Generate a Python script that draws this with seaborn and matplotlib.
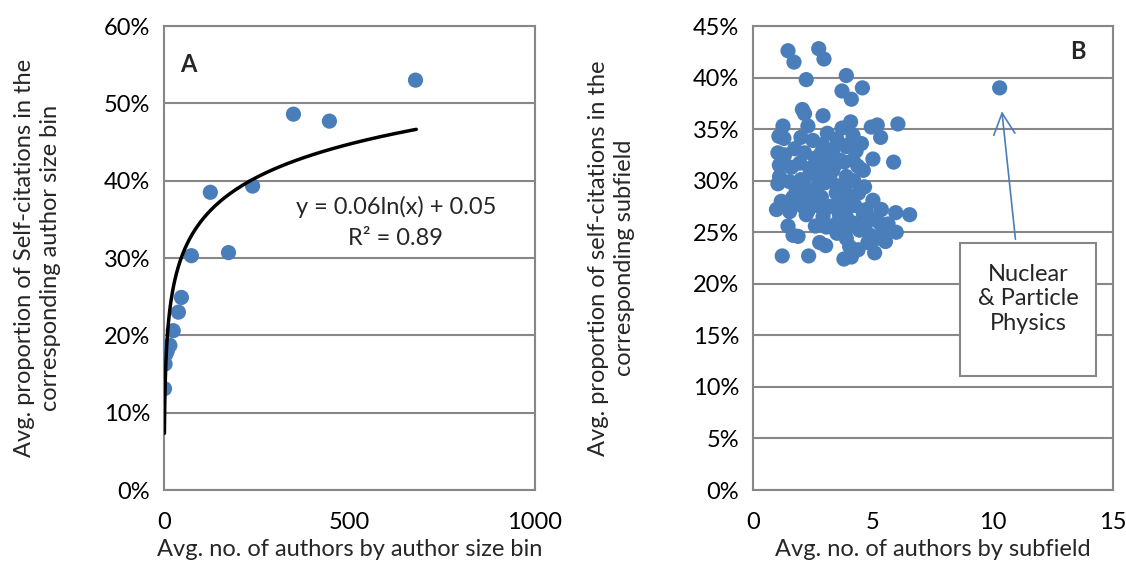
import numpy as np
import pandas as pd
import matplotlib
matplotlib.use("Agg")
import matplotlib.pyplot as plt
import seaborn as sns
from matplotlib.ticker import PercentFormatter, MultipleLocator
from matplotlib.patches import Rectangle

# Panel A: author size bins
bin_authors = [678, 446, 349, 239, 174, 125, 74, 47, 39, 25, 16, 9, 6, 4, 3, 1.5]
bin_selfcite = [0.530, 0.477, 0.486, 0.393, 0.307, 0.385, 0.303, 0.249, 0.230,
                0.206, 0.187, 0.180, 0.177, 0.175, 0.163, 0.131]
# log trendline (Excel label says 0.06ln(x) + 0.05)
trend_slope = 0.062
trend_intercept = 0.062
trend_range = (1.2, 680)
trend_label = ["y = 0.06ln(x) + 0.05", "R\u00b2 = 0.89"]

# Panel B: subfields
subfield_authors = [
    1.46, 1.71, 2.74, 2.96, 2.22, 3.89, 4.56, 3.71, 4.10, 2.06, 2.15, 2.92,
    1.25, 2.29, 4.07, 4.93, 5.18, 6.04, 1.08, 1.29, 5.32, 3.10, 3.71, 4.17,
    4.52, 1.74, 1.04, 1.32, 2.15, 5.00, 5.86, 1.10, 2.85, 3.33, 3.89, 3.61,
    4.37, 4.17, 1.95, 2.36, 2.92, 3.33, 1.11, 1.04, 1.53, 2.00, 2.71, 3.20,
    3.89, 4.65, 3.82, 2.64, 1.81, 1.67, 2.22, 2.85, 3.47, 4.10, 1.18, 5.00,
    0.98, 1.53, 2.08, 2.64, 3.20, 3.61, 4.24, 4.72, 5.35, 5.95, 6.53, 2.22,
    2.92, 3.89, 5.00, 1.46, 3.06, 3.47, 4.17, 4.44, 5.28, 5.63, 5.97, 1.67,
    1.88, 5.42, 3.89, 5.14, 5.52, 2.78, 3.03, 4.03, 4.79, 4.38, 5.07, 1.22,
    2.32, 3.79, 4.10, 2.50, 2.90, 3.50, 3.30, 2.60, 3.80, 4.30, 2.40, 3.00,
    3.50, 4.20, 4.40, 2.50, 3.00, 3.80, 4.60, 2.10, 1.60, 3.40, 4.00, 4.60,
    2.00, 1.60, 2.30, 3.60, 4.00, 4.70, 4.90, 3.50, 2.60, 10.28]
subfield_selfcite = [
    42.6, 41.5, 42.8, 41.8, 39.8, 40.2, 39.0, 38.7, 37.9, 36.9, 36.5, 36.3,
    35.3, 35.3, 35.7, 35.2, 35.4, 35.5, 34.3, 34.1, 34.2, 34.6, 35.1, 34.4,
    33.6, 33.1, 32.7, 32.5, 32.7, 32.1, 31.8, 31.5, 32.7, 33.0, 33.3, 32.0,
    31.4, 32.0, 31.7, 31.2, 31.4, 31.0, 30.4, 29.7, 29.9, 30.1, 30.4, 30.2,
    30.4, 29.4, 29.3, 29.3, 29.1, 28.4, 28.6, 28.4, 28.8, 28.4, 28.0, 28.1,
    27.2, 27.0, 27.5, 27.6, 27.5, 28.0, 27.6, 27.2, 27.2, 26.9, 26.7, 26.7,
    26.5, 26.5, 26.3, 25.6, 25.5, 25.8, 25.9, 25.2, 25.9, 25.8, 25.0, 24.7,
    24.6, 25.1, 24.4, 24.4, 24.1, 24.0, 23.7, 23.6, 24.0, 23.3, 23.0, 22.7,
    22.7, 22.4, 22.6, 33.9, 33.5, 34.0, 32.2, 32.2, 31.8, 32.9, 30.8, 29.8,
    29.5, 30.0, 28.8, 28.0, 27.2, 27.3, 26.8, 29.8, 31.3, 31.5, 33.5, 31.0,
    34.2, 27.9, 27.1, 26.7, 25.5, 25.8, 24.7, 24.9, 25.6, 39.0]
callout_text = "Nuclear\n& Particle\nPhysics"

df_a = pd.DataFrame({"authors": bin_authors, "selfcite": bin_selfcite})
df_b = pd.DataFrame({"authors": subfield_authors,
                     "selfcite": np.array(subfield_selfcite) / 100})
trend_x = np.geomspace(trend_range[0], trend_range[1], 300)
df_trend = pd.DataFrame({"authors": trend_x,
                         "selfcite": trend_slope * np.log(trend_x) + trend_intercept})

sns.set_style("white")
plt.rcParams["font.family"] = ["Lato", "DejaVu Sans"]
plt.rcParams["font.size"] = 17

dot_color = "#4A7EBB"
grid_color = "#878787"

fig = plt.figure(figsize=(11.26, 5.74), dpi=100)
ax_a = fig.add_axes([0.1456, 0.1463, 0.3295, 0.8084])
ax_b = fig.add_axes([0.6687, 0.1463, 0.3197, 0.8084])

sns.scatterplot(data=df_a, x="authors", y="selfcite", ax=ax_a, color=dot_color,
                s=120, edgecolor="none", zorder=3)
sns.lineplot(data=df_trend, x="authors", y="selfcite", ax=ax_a, color="black",
             linewidth=2.5, zorder=4)
sns.scatterplot(data=df_b, x="authors", y="selfcite", ax=ax_b, color=dot_color,
                s=120, edgecolor="none", zorder=3)

def style_axes(ax, xmax, xstep, ymax, ystep, xlabel, ylabel, ylabel_x):
    ax.set_xlim(0, xmax)
    ax.set_ylim(0, ymax)
    ax.xaxis.set_major_locator(MultipleLocator(xstep))
    ax.yaxis.set_major_locator(MultipleLocator(ystep))
    ax.yaxis.set_major_formatter(PercentFormatter(1.0, decimals=0))
    ax.grid(axis="y", color=grid_color, linewidth=1.5)
    ax.grid(axis="x", visible=False)
    ax.set_axisbelow(True)
    for sp in ax.spines.values():
        sp.set_visible(True)
        sp.set_color(grid_color)
        sp.set_linewidth(1.5)
    ax.tick_params(axis="both", which="major", direction="out", length=4,
                   width=1.5, color=grid_color, labelsize=17, labelcolor="black")
    ax.tick_params(axis="y", pad=6)
    ax.tick_params(axis="x", pad=12)
    ax.set_xlabel(xlabel, fontsize=17)
    ax.set_ylabel(ylabel, fontsize=17, linespacing=1.3)
    ax.xaxis.set_label_coords(0.5, -0.129)
    ax.xaxis.label.set_va("center")
    ax.yaxis.set_label_coords(ylabel_x, 0.5)
    ax.yaxis.label.set_va("center")

style_axes(ax_a, 1000, 500, 0.6, 0.1,
           "Avg. no. of authors by author size bin",
           "Avg. proportion of Self-citations in the\ncorresponding author size bin",
           -0.34)
style_axes(ax_b, 15, 5, 0.45, 0.05,
           "Avg. no. of authors by subfield",
           "Avg. proportion of self-citations in the\ncorresponding subfield",
           -0.392)

ax_a.text(0.065, 0.916, "A", transform=ax_a.transAxes, fontsize=17,
          fontweight="bold", ha="center", va="center")
ax_b.text(0.903, 0.944, "B", transform=ax_b.transAxes, fontsize=17,
          fontweight="bold", ha="center", va="center")
ax_a.text(0.625, 0.610, trend_label[0], transform=ax_a.transAxes,
          ha="center", va="center", fontsize=17)
ax_a.text(0.625, 0.543, trend_label[1], transform=ax_a.transAxes,
          ha="center", va="center", fontsize=17)

# callout box and arrow for the outlier subfield
ax_b.add_patch(Rectangle((0.575, 0.246), 0.378, 0.286, transform=ax_b.transAxes,
                         facecolor="white", edgecolor=grid_color, linewidth=1.5,
                         zorder=5))
ax_b.text(0.764, 0.412, callout_text, transform=ax_b.transAxes, ha="center",
          va="center", fontsize=17, linespacing=1.2, zorder=6)
ax_b.annotate("", xy=(10.36, 0.370), xytext=(10.95, 0.2405),
              arrowprops=dict(arrowstyle="->,head_length=0.9,head_width=0.45",
                              color=dot_color, linewidth=1.2), zorder=6)

fig.savefig("out.png", dpi=100)
